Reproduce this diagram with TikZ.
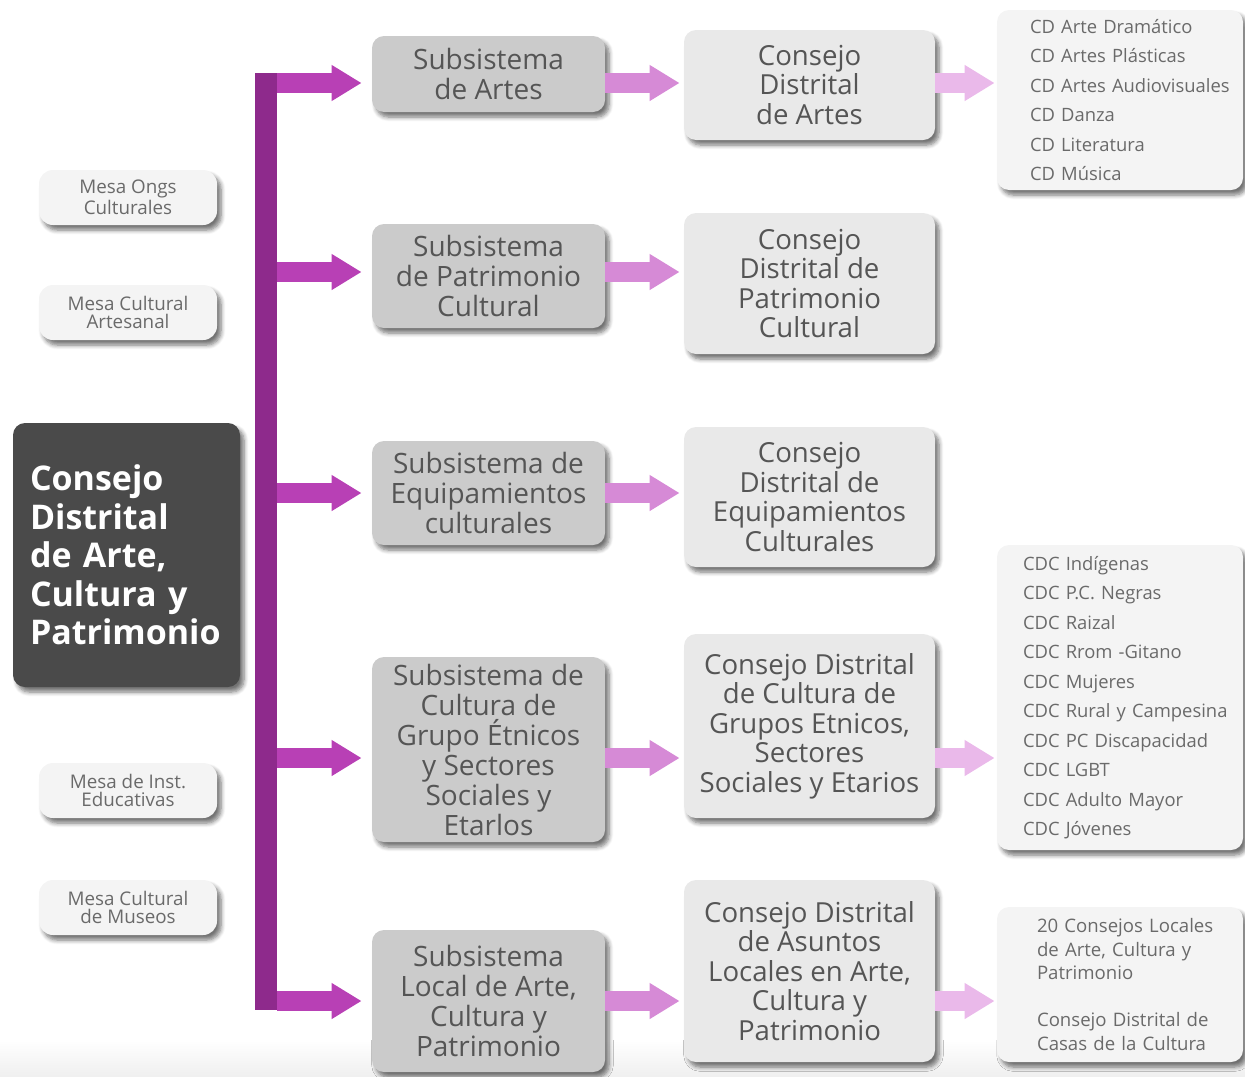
\documentclass[tikz,border=0pt]{standalone}
\usepackage{fontspec}
\setmainfont{Open Sans}
\usetikzlibrary{arrows.meta,shadows.blur,calc}
\definecolor{barc}{HTML}{8E2A8C}
\definecolor{arra}{HTML}{B840B5}
\definecolor{arrb}{HTML}{D68AD6}
\definecolor{arrc}{HTML}{EAB9EA}
\definecolor{mainfill}{HTML}{4A4A4A}
\definecolor{subfill}{HTML}{CBCBCB}
\definecolor{cdfill}{HTML}{E9E9E9}
\definecolor{listfill}{HTML}{F4F4F4}
\definecolor{txt}{HTML}{555555}
\definecolor{ltxt}{HTML}{6A6A6A}
\newcommand{\oneline}[1]{\mbox{#1}}
\begin{document}
\begin{tikzpicture}[x=0.5pt,y=-0.5pt,
  shad/.style={blur shadow={shadow xshift=2pt,shadow yshift=-2.5pt,shadow blur steps=6,shadow opacity=55}},
  mesa/.style={shad,fill=listfill,rounded corners=7pt,minimum width=89pt,minimum height=27.5pt,align=center,font=\fontsize{9.4}{9}\selectfont,text=ltxt,inner sep=0pt},
  mainbox/.style={shad,fill=mainfill,rounded corners=6pt,minimum width=113.5pt,minimum height=132pt,text width=96.5pt,inner xsep=8.5pt,align=left,font=\fontsize{17}{19.25}\selectfont\bfseries,text=white},
  subbox/.style={shad,fill=subfill,rounded corners=6pt,minimum width=116.5pt,align=center,font=\fontsize{14}{15}\selectfont,text=txt,inner sep=0pt},
  cdbox/.style={shad,fill=cdfill,rounded corners=6pt,minimum width=125.5pt,align=center,font=\fontsize{13.8}{14.75}\selectfont,text=txt,inner sep=0pt},
  listbox/.style={shad,fill=listfill,rounded corners=6pt,minimum width=123pt,align=left,font=\fontsize{9.2}{14.75}\selectfont,text=ltxt,inner ysep=0pt},
  arrA/.style={line width=10pt,draw=arra,-{Triangle[length=15pt,width=17pt]},shorten >=5pt},
  arrB/.style={line width=10pt,draw=arrb,-{Triangle[length=15pt,width=17pt]},shorten >=2pt},
  arrC/.style={line width=10pt,draw=arrc,-{Triangle[length=15pt,width=17pt]},shorten >=1pt}]
\useasboundingbox (0,0) rectangle (1245,1076);
\shade[top color=white,bottom color=black!6] (0,1040) rectangle (1245,1076);

% rows
\coordinate (r1) at (0,83);
\coordinate (r2) at (0,272);
\coordinate (r3) at (0,493);
\coordinate (r4) at (0,758);
\coordinate (r5) at (0,1001);

% left mesas
\node[mesa] (m1) at (128,197.5) {Mesa Ongs\\Culturales};
\node[mesa] (m2) at (128,312.5) {Mesa Cultural\\Artesanal};
\node[mesa] (m3) at (128,790.5) {Mesa de Inst.\\Educativas};
\node[mesa] (m4) at (128,907.5) {Mesa Cultural\\de Museos};

\node[mainbox] (main) at (126.5,555) {Consejo\\Distrital\\de Arte,\\Cultura y\\Patrimonio};

% bar
\node[fill=barc,minimum width=11pt,minimum height=468.5pt,inner sep=0pt] (bar) at (266,541.5) {};

% subsistemas
\node[subbox,minimum height=38pt] (s1) at (488.5,74) {Subsistema\\de Artes};
\node[subbox,minimum height=52pt] (s2) at (488.5,276) {Subsistema\\de Patrimonio\\Cultural};
\node[subbox,minimum height=52pt] (s3) at (488.5,493) {Subsistema de\\Equipamientos\\culturales};
\node[subbox,minimum height=92.5pt] (s4) at (488.5,749.5) {Subsistema de\\Cultura de\\Grupo Étnicos\\y Sectores\\Sociales y\\Etarlos};
\node[subbox,minimum height=71pt] (s5) at (488.5,1001) {Subsistema\\Local de Arte,\\Cultura y\\Patrimonio};

% consejos
\node[cdbox,minimum height=55pt] (c1) at (809.5,85) {Consejo\\Distrital\\de Artes};
\node[cdbox,minimum height=70.5pt] (c2) at (809.5,283.5) {Consejo\\Distrital de\\Patrimonio\\Cultural};
\node[cdbox,minimum height=70pt] (c3) at (809.5,497) {Consejo\\Distrital de\\Equipamientos\\Culturales};
\node[cdbox,minimum height=92pt] (c4) at (809.5,726) {Consejo Distrital\\de Cultura de\\Grupos Etnicos,\\Sectores\\Sociales y Etarios};
\node[cdbox,minimum height=91pt] (c5) at (809.5,971) {Consejo Distrital\\de Asuntos\\Locales en Arte,\\Cultura y\\Patrimonio};

% lists
\node[listbox,minimum height=90pt,inner xsep=16.5pt,text width=90pt] (l1) at (1120,100) {\oneline{CD Arte Dramático}\\\oneline{CD Artes Plásticas}\\\oneline{CD Artes Audiovisuales}\\\oneline{CD Danza}\\\oneline{CD Literatura}\\\oneline{CD Música}};
\node[listbox,minimum height=152.5pt,inner xsep=13pt,text width=97pt] (l4) at (1120,697.5) {\oneline{CDC Indígenas}\\\oneline{CDC P.C. Negras}\\\oneline{CDC Raizal}\\\oneline{CDC Rrom -Gitano}\\\oneline{CDC Mujeres}\\\oneline{CDC Rural y Campesina}\\\oneline{CDC PC Discapacidad}\\\oneline{CDC LGBT}\\\oneline{CDC Adulto Mayor}\\\oneline{CDC Jóvenes}};
\node[listbox,minimum height=77.5pt,inner xsep=20pt,text width=83pt,font=\fontsize{9.3}{11.75}\selectfont] (l5) at (1120,984.5) {\oneline{20 Consejos Locales}\\\oneline{de Arte, Cultura y}\\\oneline{Patrimonio}\\[11.75pt]\oneline{Consejo Distrital de}\\\oneline{Casas de la Cultura}};

% arrows bar -> subsistemas
\draw[arrA] (bar.east |- r1) -- (s1.west |- r1);
\draw[arrA] (bar.east |- r2) -- (s2.west |- r2);
\draw[arrA] (bar.east |- r3) -- (s3.west |- r3);
\draw[arrA] (bar.east |- r4) -- (s4.west |- r4);
\draw[arrA] (bar.east |- r5) -- (s5.west |- r5);

% subsistemas -> consejos
\draw[arrB] (s1.east |- r1) -- (c1.west |- r1);
\draw[arrB] (s2.east |- r2) -- (c2.west |- r2);
\draw[arrB] (s3.east |- r3) -- (c3.west |- r3);
\draw[arrB] (s4.east |- r4) -- (c4.west |- r4);
\draw[arrB] (s5.east |- r5) -- (c5.west |- r5);

% consejos -> lists
\draw[arrC] (c1.east |- r1) -- (l1.west |- r1);
\draw[arrC] (c4.east |- r4) -- (l4.west |- r4);
\draw[arrC] (c5.east |- r5) -- (l5.west |- r5);
\end{tikzpicture}
\end{document}
